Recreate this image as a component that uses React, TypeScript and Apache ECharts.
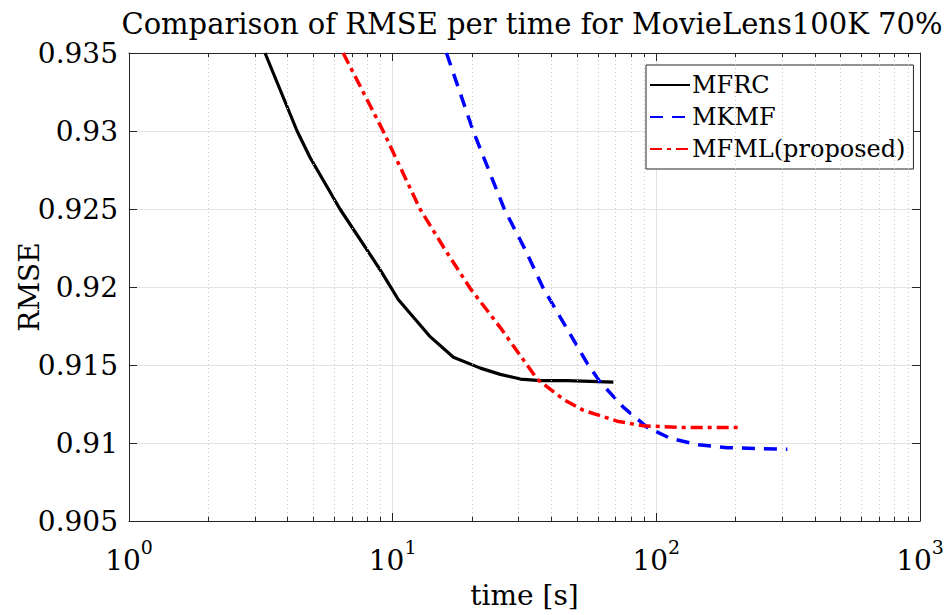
import React, { useEffect, useRef } from "react";
import * as echarts from "echarts";

// Elapsed time [s] and test RMSE for each method
const mfrcTime = [3.28, 4.34, 4.86, 6.31, 8.97, 10.5, 13.9, 17.0, 21.5, 25.6, 30.5, 36.3, 45.9, 68.7];
const mfrcRmse = [0.935, 0.93, 0.9283, 0.925, 0.9211, 0.9192, 0.9168, 0.9155, 0.9148, 0.9144, 0.9141, 0.914, 0.914, 0.9139];

const mkmfTime = [16.0, 20.2, 26.5, 31.8, 37.3, 54.7, 61.3, 74.9, 92.4, 113, 143, 186, 314];
const mkmfRmse = [0.935, 0.93, 0.925, 0.9224, 0.9199, 0.9151, 0.9139, 0.9123, 0.911, 0.9103, 0.9099, 0.9097, 0.9096];

const mfmlTime = [6.49, 9.2, 12.7, 15.8, 19.7, 25.6, 35.3, 44.4, 52.8, 71.1, 89.3, 123, 208];
const mfmlRmse = [0.935, 0.93, 0.925, 0.9224, 0.9199, 0.9174, 0.9141, 0.9128, 0.9121, 0.9114, 0.9111, 0.911, 0.911];

const seriesNames = ["MFRC", "MKMF", "MFML(proposed)"];
const xRange = [1, 1000];
const yRange = [0.905, 0.935];
const yStep = 0.005;
// log-axis minor positions (2..9 in every decade)
const minorX = [2, 3, 4, 5, 6, 7, 8, 9, 20, 30, 40, 50, 60, 70, 80, 90, 200, 300, 400, 500, 600, 700, 800, 900];

const FONT = "DejaVu Serif";
const AXIS_COLOR = "#262626";

const zip = (xs: number[], ys: number[]) => xs.map((x, i) => [x, ys[i]]);

export default function App() {
  const ref = useRef<HTMLDivElement>(null);

  useEffect(() => {
    if (!ref.current) return;
    const chart = echarts.init(ref.current, undefined, { renderer: "svg" });

    const tickLen = (yRange[1] - yRange[0]) * 0.009;
    const minorTickLines: any[] = [];
    minorX.forEach((v) => {
      minorTickLines.push([{ coord: [v, yRange[0]] }, { coord: [v, yRange[0] + tickLen] }]);
      minorTickLines.push([{ coord: [v, yRange[1]] }, { coord: [v, yRange[1] - tickLen] }]);
    });

    const baseAxis = {
      axisLine: { show: true, lineStyle: { color: AXIS_COLOR, width: 1 } },
    };

    chart.setOption({
      animation: false,
      backgroundColor: "#ffffff",
      textStyle: { fontFamily: FONT },
      title: {
        text: "Comparison of RMSE per time for MovieLens100K 70%",
        left: 527,
        top: 4,
        textAlign: "center",
        textStyle: { fontFamily: FONT, fontSize: 29, fontWeight: "normal", color: "#000" },
      },
      grid: { left: 129, right: 27, top: 53, bottom: 94, containLabel: false, outerBoundsMode: "none" },
      legend: {
        data: seriesNames,
        orient: "vertical",
        left: 646,
        top: 65,
        itemWidth: 40,
        itemHeight: 14,
        itemGap: 8,
        padding: [8, 8, 8, 3],
        backgroundColor: "#ffffff",
        borderColor: AXIS_COLOR,
        borderWidth: 1,
        borderRadius: 0,
        itemStyle: { opacity: 0 },
        textStyle: { fontFamily: FONT, fontSize: 24, color: "#000", lineHeight: 24, padding: [0, 0, 0, -3] },
      },
      xAxis: [
        {
          ...baseAxis,
          type: "log",
          logBase: 10,
          min: xRange[0],
          max: xRange[1],
          position: "bottom",
          name: "time [s]",
          nameLocation: "middle",
          nameGap: 60,
          nameMoveOverlap: false,
          nameTextStyle: { fontFamily: FONT, fontSize: 28, color: "#000" },
          axisTick: { show: true, inside: true, length: 8, lineStyle: { color: AXIS_COLOR } },
          axisLabel: {
            margin: 16,
            color: "#000",
            formatter: (v: number) => `{b|10}{s|${Math.round(Math.log10(v))}}`,
            rich: {
              b: { fontFamily: FONT, fontSize: 28, lineHeight: 46, color: "#000" },
              s: { fontFamily: FONT, fontSize: 19, verticalAlign: "top", color: "#000" },
            },
          },
          splitLine: { show: true, lineStyle: { color: "#e3e3e3", width: 1 } },
        },
        {
          ...baseAxis,
          type: "log",
          logBase: 10,
          min: xRange[0],
          max: xRange[1],
          position: "top",
          axisTick: { show: true, inside: true, length: 8, lineStyle: { color: AXIS_COLOR } },
          axisLabel: { show: false },
          splitLine: { show: false },
        },
      ],
      yAxis: [
        {
          ...baseAxis,
          type: "value",
          min: yRange[0],
          max: yRange[1],
          interval: yStep,
          position: "left",
          name: "RMSE",
          nameLocation: "middle",
          nameGap: 86,
          nameMoveOverlap: false,
          nameTextStyle: { fontFamily: FONT, fontSize: 28, color: "#000" },
          axisTick: { show: true, inside: true, length: 8, lineStyle: { color: AXIS_COLOR } },
          axisLabel: {
            margin: 11,
            color: "#000",
            fontFamily: FONT,
            fontSize: 28,
            formatter: (v: number) => String(parseFloat(v.toFixed(3))),
          },
          splitLine: { show: true, lineStyle: { color: "#e3e3e3", width: 1 } },
        },
        {
          ...baseAxis,
          type: "value",
          min: yRange[0],
          max: yRange[1],
          interval: yStep,
          position: "right",
          axisTick: { show: true, inside: true, length: 8, lineStyle: { color: AXIS_COLOR } },
          axisLabel: { show: false },
          splitLine: { show: false },
        },
      ],
      series: [
        {
          name: "minor",
          type: "line",
          data: [],
          silent: true,
          z: 1,
          markLine: {
            silent: true,
            symbol: "none",
            label: { show: false },
            data: [
              ...minorX.map((v) => ({
                xAxis: v,
                lineStyle: { color: "#c8c8c8", type: [1, 3], width: 1 },
              })),
              ...minorTickLines.map((pair) => [
                { ...pair[0], lineStyle: { color: AXIS_COLOR, type: "solid", width: 1 } },
                pair[1],
              ]),
            ],
          },
        },
        {
          name: seriesNames[0],
          type: "line",
          data: zip(mfrcTime, mfrcRmse),
          symbol: "none",
          z: 3,
          lineStyle: { color: "#000000", width: 3.2, type: "solid" },
          itemStyle: { color: "#000000" },
        },
        {
          name: seriesNames[1],
          type: "line",
          data: zip(mkmfTime, mkmfRmse),
          symbol: "none",
          z: 4,
          lineStyle: { color: "#0000ff", width: 3.5, type: [13, 9] },
          itemStyle: { color: "#0000ff" },
        },
        {
          name: seriesNames[2],
          type: "line",
          data: zip(mfmlTime, mfmlRmse),
          symbol: "none",
          z: 5,
          lineStyle: { color: "#ff0000", width: 3.5, type: [12, 5, 4, 5] },
          itemStyle: { color: "#ff0000" },
        },
      ],
    });

    return () => chart.dispose();
  }, []);

  return (
    <div
      ref={ref}
      style={{ position: "fixed", left: 0, top: 0, width: 947, height: 615, background: "#fff" }}
    />
  );
}
